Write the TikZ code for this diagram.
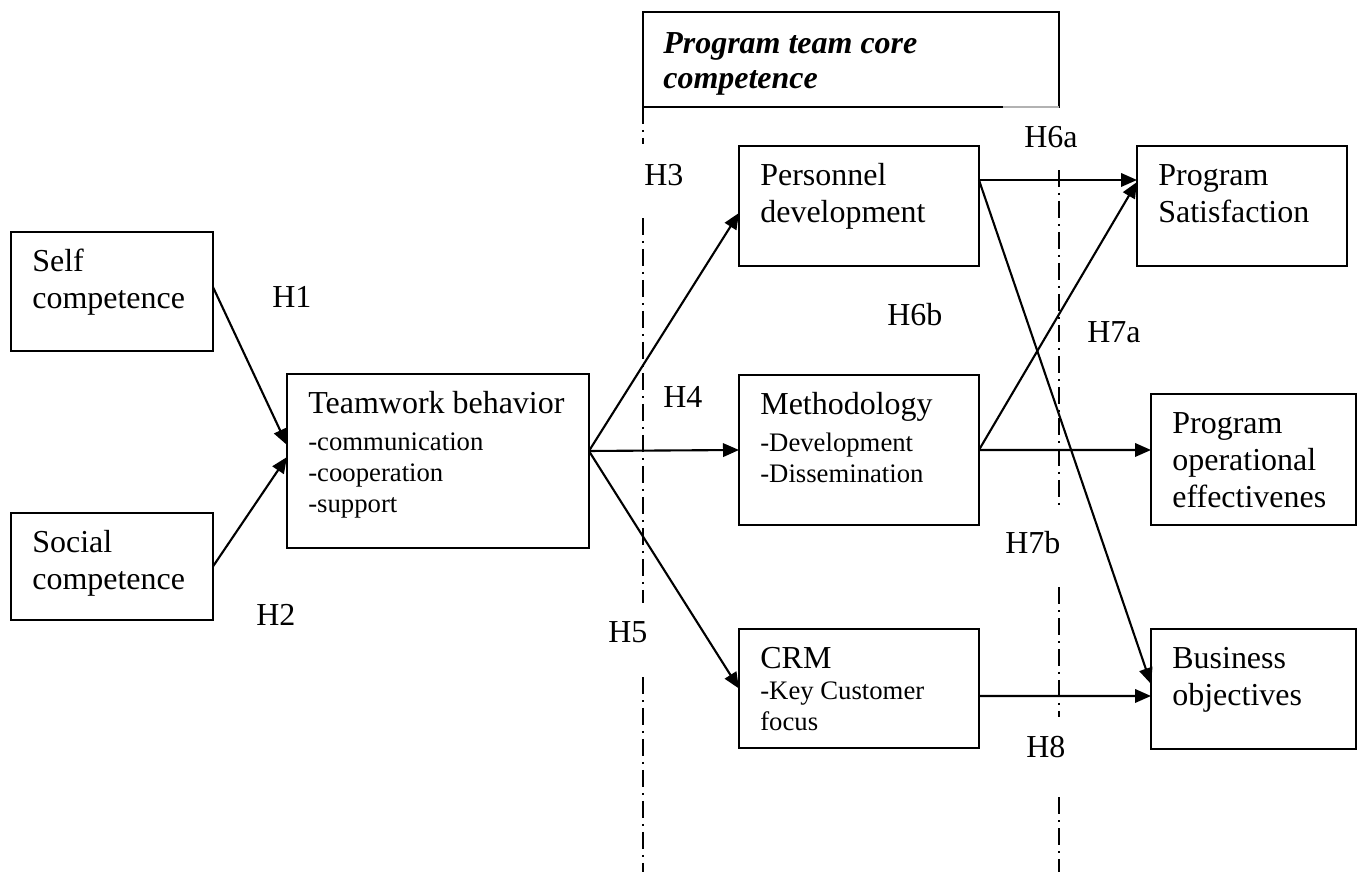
\documentclass[tikz,border=0pt]{standalone}
\usepackage{fontspec}
\setmainfont{Liberation Serif}
\usepackage{tikz}
\usetikzlibrary{arrows.meta,positioning}
\newcommand{\boxfont}{\fontsize{18.2pt}{21.1pt}\selectfont}
\newcommand{\itemfont}{\fontsize{15.2pt}{17.6pt}\selectfont}
\newcommand{\topstrut}{\rule{0pt}{0.78cm}}
\tikzset{
  model-box/.style={draw=black, line width=1.2pt, anchor=north west, outer sep=0pt, inner sep=0pt},
  model-text/.style={anchor=north west, inner sep=0pt, align=left, font=\boxfont, xshift=0.42cm},
  model-item/.style={model-text, font=\itemfont},
  model-hyp/.style={anchor=base west, inner sep=0pt, font=\boxfont},
  model-arrow/.style={-{Triangle[length=0.32cm, width=0.27cm]}, line width=1.2pt},
  model-guide/.style={line width=0.8pt, dash pattern=on 0.34cm off 0.12cm on 0.04cm off 0.12cm}
}

\begin{document}
\begin{tikzpicture}[x=0.02cm, y=-0.02cm]
  \useasboundingbox (0,0) rectangle (1363,872);
  % core competence header and its guide lines
  \node[model-box, minimum width=8.32cm, minimum height=1.9cm] (core) at (643,12) {};
  \draw[black!30, line width=1.2pt] ([xshift=-1.12cm]core.south east) -- (core.south east);
  \node[model-text, font={\fontsize{18.2pt}{19.9pt}\selectfont\bfseries\itshape}, xshift=-0.02cm] (coretitle) at (core.north west) {\rule{0pt}{0.82cm}Program team core\\competence};
  \draw[model-guide] (core.south west) -- (643,144);
  \draw[model-guide] (643,218) -- (643,603);
  \draw[model-guide] (643,677) -- (643,872);
  \draw[model-guide] (1059,170) -- (1059,510);
  \draw[model-guide] (1059,587) -- (1059,717);
  \draw[model-guide] (1059,797) -- (1059,872);
  % antecedents
  \node[model-box, minimum width=4.04cm, minimum height=2.38cm] (self) at (11,232) {};
  \node[model-text] (selftext) at (self.north west) {\topstrut Self\\competence};
  \node[model-box, minimum width=4.04cm, minimum height=2.14cm] (social) at (11,513) {};
  \node[model-text] (socialtext) at (social.north west) {\topstrut Social\\competence};
  \node[model-box, minimum width=6.04cm, minimum height=3.48cm] (team) at (287,374) {};
  \node[model-item] (teamtext) at (team.north west) {\topstrut{\boxfont Teamwork behavior}\\[0.12cm]-communication\\-cooperation\\-support};
  % core competences
  \node[model-box, minimum width=4.8cm, minimum height=2.4cm] (pers) at (739,146) {};
  \node[model-text] (perstext) at (pers.north west) {\topstrut Personnel\\development};
  \node[model-box, minimum width=4.8cm, minimum height=3.0cm] (meth) at (739,375) {};
  \node[model-item] (methtext) at (meth.north west) {\topstrut{\boxfont Methodology}\\[0.12cm]-Development\\-Dissemination};
  \node[model-box, minimum width=4.8cm, minimum height=2.38cm] (crm) at (739,629) {};
  \node[model-item] (crmtext) at (crm.north west) {\topstrut{\boxfont CRM}\\-Key Customer\\focus};
  % outcomes
  \node[model-box, minimum width=4.2cm, minimum height=2.4cm] (satis) at (1137,146) {};
  \node[model-text] (satistext) at (satis.north west) {\topstrut Program\\Satisfaction};
  \node[model-box, minimum width=4.1cm, minimum height=2.62cm] (oper) at (1151,394) {};
  \node[model-text] (opertext) at (oper.north west) {\topstrut Program\\operational\\effectivenes};
  \node[model-box, minimum width=4.1cm, minimum height=2.4cm] (busi) at (1151,629) {};
  \node[model-text] (busitext) at (busi.north west) {\topstrut Business\\objectives};
  % hypotheses
  \node[model-hyp] (h1) at (272,307) {H1};
  \node[model-hyp] (h2) at (256,625) {H2};
  \node[model-hyp] (h3) at (644,185) {H3};
  \node[model-hyp] (h4) at (663,407) {H4};
  \node[model-hyp] (h5) at (608,642) {H5};
  \node[model-hyp] (h6a) at (1024,147) {H6a};
  \node[model-hyp] (h6b) at (887,325) {H6b};
  \node[model-hyp] (h7a) at (1087,342) {H7a};
  \node[model-hyp] (h7b) at (1005,553) {H7b};
  \node[model-hyp] (h8) at (1026,757) {H8};
  % paths
  \draw[model-arrow] ([yshift=0.09cm]self.east) -- ([yshift=0.32cm]team.west);
  \draw[model-arrow] (social.east) -- ([yshift=0.08cm]team.west);
  \coordinate (fan) at ([yshift=0.2cm]team.east);
  \draw[model-arrow] (fan) -- ([yshift=-0.14cm]pers.west);
  \draw[model-arrow] (fan) -- (meth.west);
  \draw[model-arrow] (fan) -- (crm.west);
  \coordinate (persout) at ([yshift=0.52cm]pers.east);
  \draw[model-arrow] (persout) -- ([yshift=0.52cm]satis.west);
  \draw[model-arrow] (persout) -- ([yshift=0.1cm]busi.west);
  \draw[model-arrow] (meth.east) -- ([yshift=0.48cm]satis.west);
  \draw[model-arrow] (meth.east) -- ([yshift=0.19cm]oper.west);
  \draw[model-arrow] ([yshift=-0.15cm]crm.east) -- ([yshift=-0.14cm]busi.west);
\end{tikzpicture}
\end{document}
